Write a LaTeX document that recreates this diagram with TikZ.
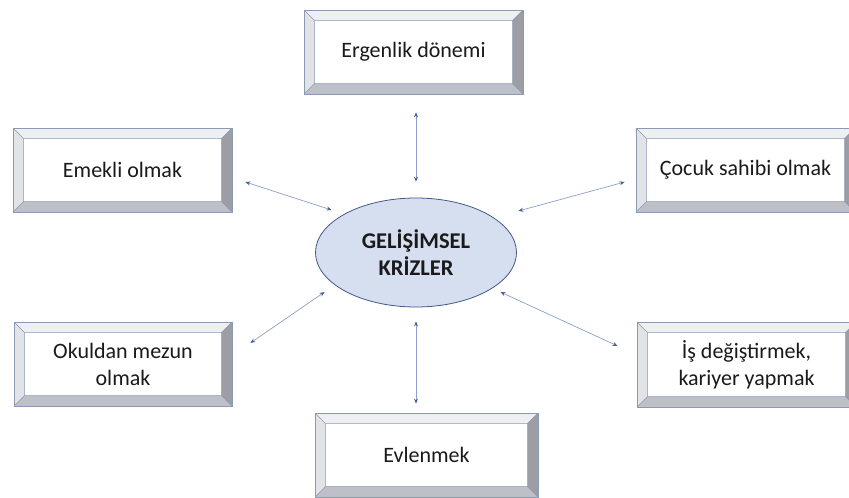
\documentclass[tikz,border=0pt]{standalone}
\usepackage{fontspec}
\setmainfont{Carlito}
\usetikzlibrary{shapes.geometric,arrows.meta}

\definecolor{framec}{HTML}{8A9AB3}
\definecolor{bevtopc}{HTML}{EEEFF2}
\definecolor{bevleftc}{HTML}{E2E3E6}
\definecolor{bevrightc}{HTML}{9C9EA3}
\definecolor{bevbotc}{HTML}{BDC0C6}
\definecolor{txtc}{HTML}{1A1A1A}
\definecolor{corefill}{HTML}{D6DFEF}
\definecolor{coredraw}{HTML}{42598A}
\definecolor{linkc}{HTML}{8C9FC6}
\definecolor{headc}{HTML}{4A5F96}

\tikzset{
  bevelbox/.style={rectangle, draw=framec, line width=0.7pt, fill=white,
    minimum width=219pt, minimum height=84pt, inner sep=0pt, align=center,
    font=\fontsize{22}{27}\selectfont, text=txtc,
    path picture={
      \path (path picture bounding box.north west) coordinate (bNW)
            (path picture bounding box.north east) coordinate (bNE)
            (path picture bounding box.south west) coordinate (bSW)
            (path picture bounding box.south east) coordinate (bSE);
      \path ([shift={(10.5pt,-10.5pt)}]bNW) coordinate (iNW)
            ([shift={(-10.5pt,-10.5pt)}]bNE) coordinate (iNE)
            ([shift={(10.5pt,10.5pt)}]bSW) coordinate (iSW)
            ([shift={(-10.5pt,10.5pt)}]bSE) coordinate (iSE);
      \fill[bevtopc] (bNW) -- (bNE) -- (iNE) -- (iNW) -- cycle;
      \fill[bevbotc] (bSW) -- (bSE) -- (iSE) -- (iSW) -- cycle;
      \fill[bevleftc] (bNW) -- (iNW) -- (iSW) -- (bSW) -- cycle;
      \fill[bevrightc] (bNE) -- (iNE) -- (iSE) -- (bSE) -- cycle;
      \draw[framec, line width=0.5pt] (iNW) rectangle (iSE)
            (bNW) -- (iNW) (bNE) -- (iNE) (bSW) -- (iSW) (bSE) -- (iSE);
    }},
  core/.style={ellipse, draw=coredraw, line width=0.8pt, fill=corefill,
    minimum width=201pt, minimum height=109pt, inner sep=0pt, align=center,
    font=\fontsize{22.5}{26.5}\selectfont\bfseries, text=txtc},
  link/.style={draw=linkc, line width=0.7pt,
    {Stealth[length=5pt,width=4pt,color=headc]}-{Stealth[length=5pt,width=4pt,color=headc]}}
}

\begin{document}
\begin{tikzpicture}[x=1pt,y=-1pt]
\useasboundingbox (0,0) rectangle (849,498);
\clip (0,0) rectangle (849,498);

% central ellipse
\node[core] (kriz) at (416,252.5) {GELİŞİMSEL\\KRİZLER};

% surrounding life events
\node[bevelbox] (ergen) at (413.5,52) {Ergenlik dönemi};
\node[bevelbox] (emekli) at (122.5,170) {Emekli olmak};
\node[bevelbox] (cocuk) at (745.5,170) {Çocuk sahibi olmak};
\node[bevelbox, minimum width=218pt] (okul) at (123,364) {Okuldan mezun\\olmak};
\node[bevelbox, minimum height=85pt] (is) at (746.5,364.5) {İş değiştirmek,\\kariyer yapmak};
\node[bevelbox, minimum width=223pt] (evlen) at (426.5,455) {Evlenmek};

% two-way links
\draw[link] ([shift={(2.5,18)}]ergen.south) -- ([shift={(0,-16)}]kriz.north);
\draw[link] ([shift={(0,14)}]kriz.south) -- ([shift={(-10.5,-9)}]evlen.north);
\draw[link] ([shift={(13,12)}]emekli.east) -- ([shift={(16.5,-42.5)}]kriz.west);
\draw[link] ([shift={(-11,12)}]cocuk.west) -- ([shift={(1.5,-41.5)}]kriz.east);
\draw[link] ([shift={(18,-21)}]okul.east) -- ([shift={(9.5,39.5)}]kriz.west);
\draw[link] ([shift={(-19,-18.5)}]is.west) -- ([shift={(-16.5,39.5)}]kriz.east);
\end{tikzpicture}
\end{document}
